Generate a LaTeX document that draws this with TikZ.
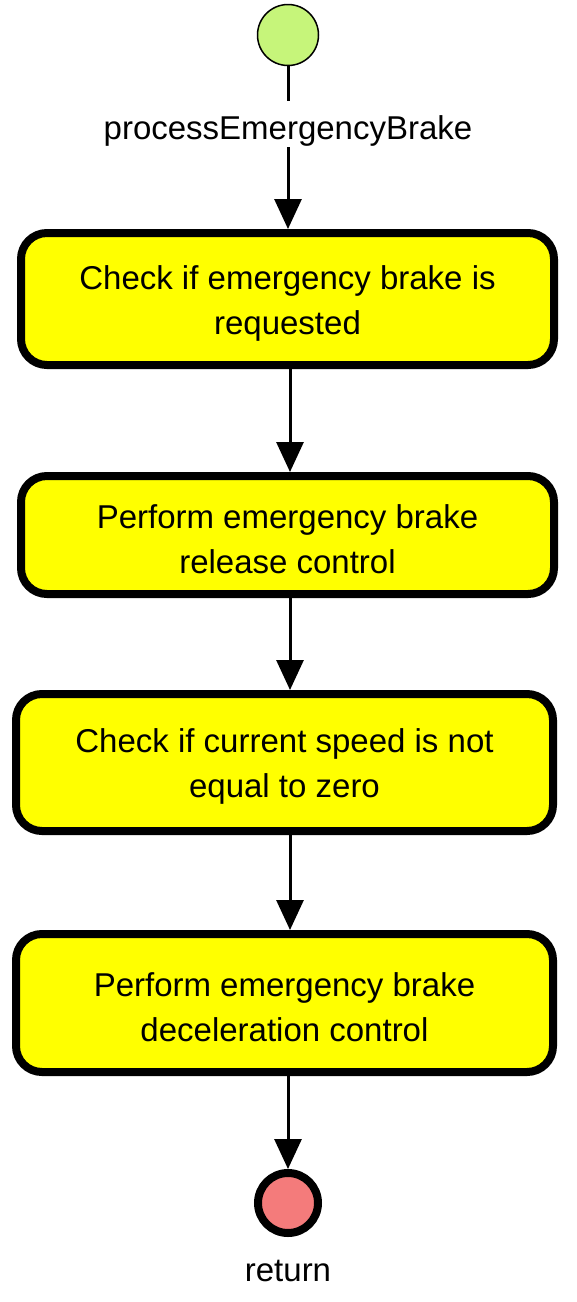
\documentclass[tikz,border=0pt]{standalone}
\usepackage{fontspec}
\setmainfont{Liberation Sans}
\usetikzlibrary{arrows.meta,calc}
\definecolor{startgreen}{RGB}{198,245,122}
\definecolor{endred}{RGB}{244,123,123}
\definecolor{boxyellow}{RGB}{255,255,0}
\newcommand{\topstrut}{\rule{0pt}{32pt}}
\begin{document}
\begin{tikzpicture}[x=1pt,y=-1pt,
  actbox/.style={draw=black,fill=boxyellow,line width=8pt,rounded corners=26pt,
    align=center,font=\fontsize{33}{45}\selectfont,inner sep=0pt},
  lbl/.style={font=\fontsize{33}{40}\selectfont,inner sep=0pt},
  conn/.style={line width=3pt,draw=black},
  arr/.style={conn,-{Triangle[width=27pt,length=30pt]}}]
\useasboundingbox (0,0) rectangle (576,1302);
\node[circle,draw=black,fill=startgreen,line width=1.5pt,minimum size=61pt,inner sep=0pt] (start) at (288,35) {};
\node[lbl,text height=38.5pt,text depth=7.5pt] (startlbl) at (288,124) {processEmergencyBrake};
\node[actbox,minimum width=533pt,minimum height=132pt] (b1) at (287.5,299) {\topstrut Check if emergency brake is\\requested};
\node[actbox,minimum width=533pt,minimum height=118pt] (b2) at (287.5,535) {\topstrut Perform emergency brake\\release control};
\node[actbox,minimum width=537pt,minimum height=137pt] (b3) at (284.5,762.5) {\topstrut Check if current speed is not\\equal to zero};
\node[actbox,minimum width=537pt,minimum height=138pt] (b4) at (284.5,1003) {\topstrut Perform emergency brake\\deceleration control};
\node[circle,draw=black,fill=endred,line width=8pt,minimum size=60pt,inner sep=0pt] (end) at (288,1203) {};
\node[lbl] (endlbl) at (288,1271) {return};
\coordinate (xa) at (288,0);
\coordinate (xb) at (290,0);
\draw[conn] (start) -- (startlbl);
\draw[arr] (startlbl) -- (b1.north -| xa);
\draw[arr] (b1.south -| xb) -- (b2.north -| xb);
\draw[arr] (b2.south -| xb) -- (b3.north -| xb);
\draw[arr] (b3.south -| xb) -- (b4.north -| xb);
\draw[arr] (b4.south -| xa) -- (end);
\end{tikzpicture}
\end{document}
